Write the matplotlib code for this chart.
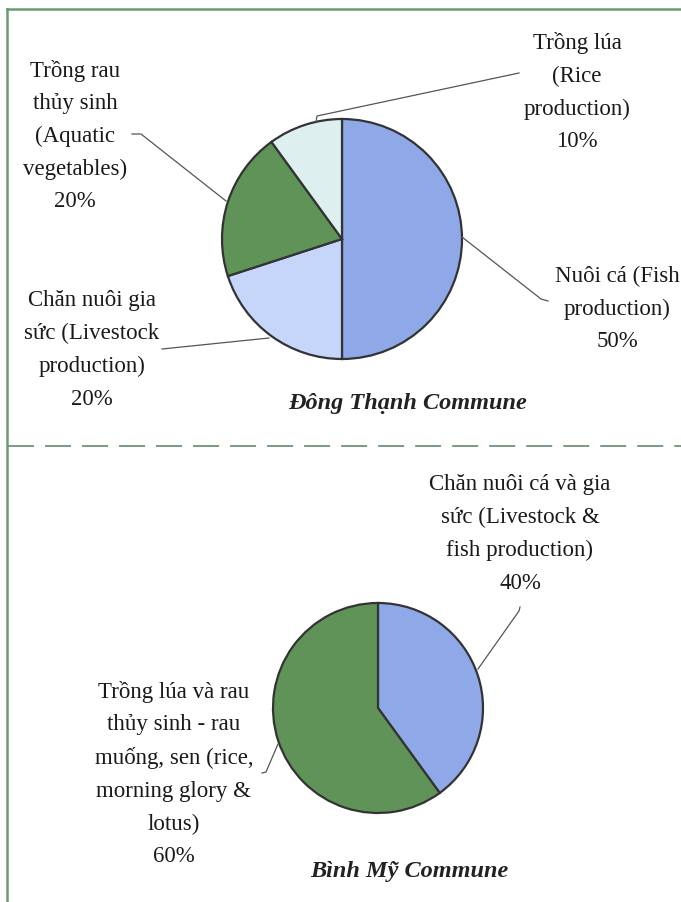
import matplotlib.pyplot as plt

W, H = 681, 903

# Đông Thạnh commune
dt_labels = ["Nuôi cá (Fish\nproduction)\n50%",
             "Chăn nuôi gia\nsức (Livestock\nproduction)\n20%",
             "Trồng rau\nthủy sinh\n(Aquatic\nvegetables)\n20%",
             "Trồng lúa\n(Rice\nproduction)\n10%"]
dt_values = [50, 20, 20, 10]
dt_colors = ["#8fa8e8", "#c6d6fa", "#5f9358", "#ddf0ef"]

# Bình Mỹ commune
bm_labels = ["Chăn nuôi cá và gia\nsức (Livestock &\nfish production)\n40%",
             "Trồng lúa và rau\nthủy sinh - rau\nmuống, sen (rice,\nmorning glory &\nlotus)\n60%"]
bm_values = [40, 60]
bm_colors = ["#8fa8e8", "#5f9358"]

fig = plt.figure(figsize=(W / 100, H / 100), dpi=100)
ax = fig.add_axes([0, 0, 1, 1])


def Y(y):
    # pixel rows from the top -> data y
    return H - y


def draw_pie(values, colors, cx, cy, r):
    ax.pie(values, colors=colors, startangle=90, counterclock=False,
           center=(cx, Y(cy)), radius=r,
           wedgeprops=dict(edgecolor="#333333", linewidth=1.6))


draw_pie(dt_values, dt_colors, 342, 240, 120)
draw_pie(bm_values, bm_colors, 378, 709, 105)

txt = dict(family="Liberation Serif", fontsize=16.5, color="#1a1a1a",
           ha="center", va="center", multialignment="center",
           linespacing=1.72)

# label block centres
dt_pos = [(617, 309), (92, 350), (75, 136), (577, 92)]
bm_pos = [(520, 534), (174, 774)]
for lab, (x, y) in zip(dt_labels, dt_pos):
    ax.text(x, Y(y), lab, **txt)
for lab, (x, y) in zip(bm_labels, bm_pos):
    ax.text(x, Y(y), lab, **txt)

# leader lines
leaders = [
    [(462, 238), (541, 300), (548, 302)],
    [(269, 339), (162, 350)],
    [(226, 202), (141, 135), (132, 135)],
    [(316, 123), (317, 117), (519, 74)],
    [(478, 670), (519, 612), (520, 608)],
    [(278, 745), (266, 773), (262, 774)],
]
for pts in leaders:
    ax.plot([p[0] for p in pts], [Y(p[1]) for p in pts],
            color="#555555", lw=0.9)

title = dict(family="Liberation Serif", fontsize=17.5, color="#222222",
             weight="bold", style="italic", ha="center", va="center")
ax.text(408, Y(403), "Đông Thạnh Commune", **title)
ax.text(409, Y(872), "Bình Mỹ Commune", **title)

# frame and separator
frame_c = "#6a9a72"
ax.plot([7, W], [Y(10), Y(10)], color=frame_c, lw=1.8)
ax.plot([7, 7], [Y(10), 0], color=frame_c, lw=1.8)
ax.plot([8, W], [Y(447), Y(447)], color="#6f9478", lw=1.3,
        linestyle=(0, (14.4, 6.1)))

ax.set_xlim(0, W)
ax.set_ylim(0, H)
ax.set_aspect("auto")
ax.axis("off")

fig.savefig("out.png", dpi=100)
